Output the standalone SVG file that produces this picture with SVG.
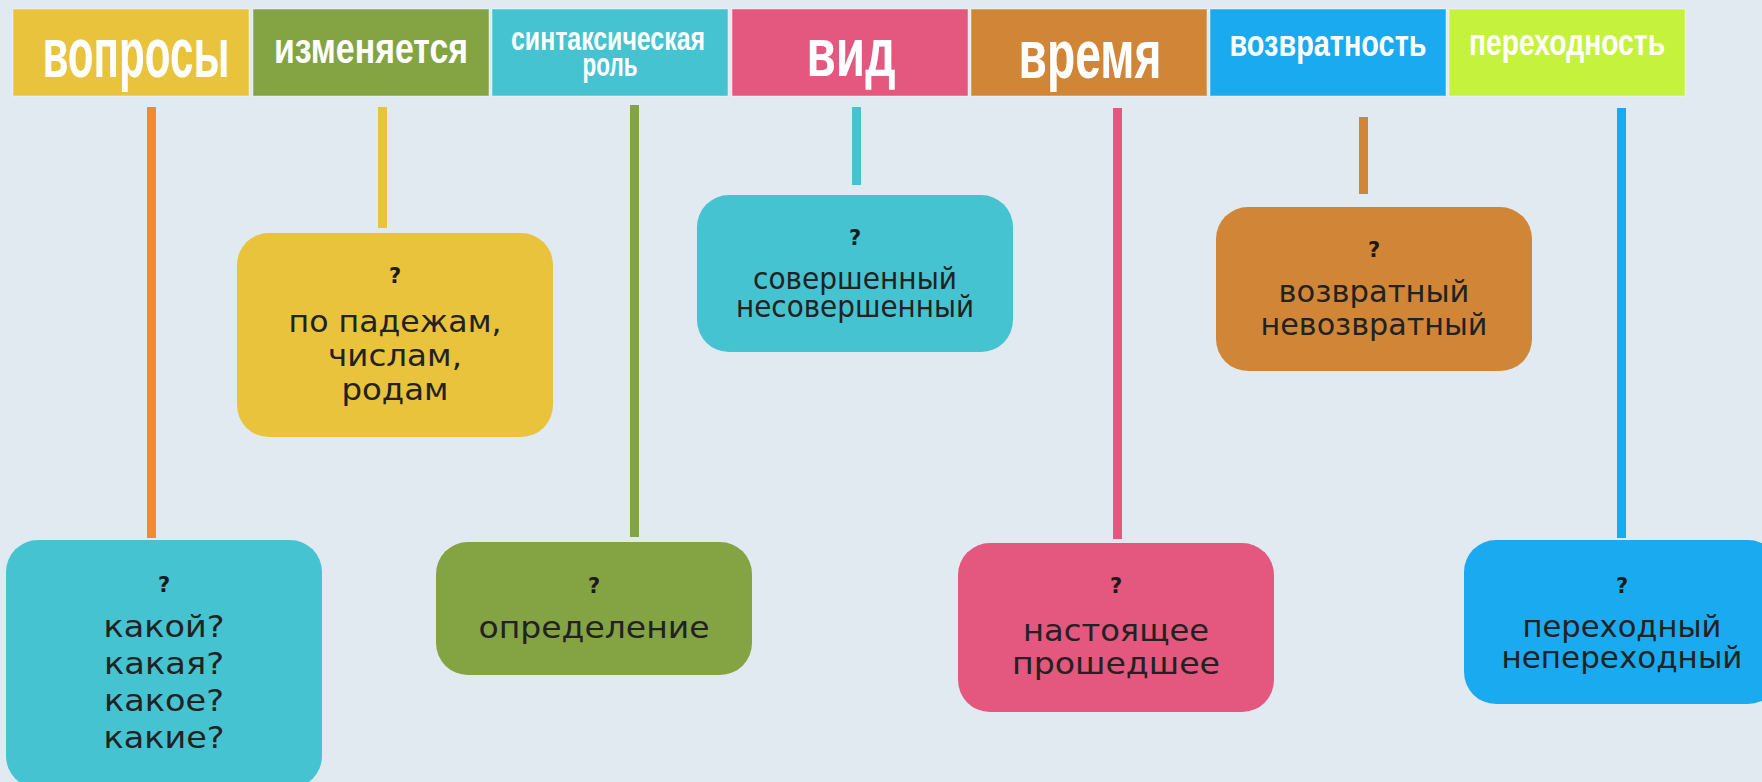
<svg xmlns="http://www.w3.org/2000/svg" width="1762" height="782" viewBox="0 0 1762 782">
<style>
.hd{stroke:#ffffff;stroke-opacity:0.45;stroke-width:1}
.ht{font-family:"Liberation Sans",Arial,sans-serif;font-weight:bold;fill:#ffffff;text-anchor:middle}
.q{font-family:"DejaVu Sans","Noto Sans",sans-serif;font-weight:bold;font-size:21px;fill:#1a1a1a;text-anchor:middle}
.bt{font-family:"DejaVu Sans","Noto Sans",sans-serif;font-size:30px;fill:#222222;text-anchor:middle}
.ln{stroke-width:9;fill:none}
</style>
<rect x="0" y="0" width="1762" height="782" fill="#E1E9F1"/>

<g id="h-voprosy">
<rect class="hd" x="13" y="9" width="236" height="87" fill="#E8C33B"/>
<text class="ht" x="136" y="77" font-size="70" textLength="187" lengthAdjust="spacingAndGlyphs">вопросы</text>
</g>
<g id="h-izmenyaetsya">
<rect class="hd" x="253" y="9" width="236" height="87" fill="#84A444"/>
<text class="ht" x="371" y="63" font-size="43" textLength="194" lengthAdjust="spacingAndGlyphs">изменяется</text>
</g>
<g id="h-sintaks">
<rect class="hd" x="492" y="9" width="236" height="87" fill="#45C3D1"/>
<text class="ht" x="608" y="50" font-size="33" textLength="194" lengthAdjust="spacingAndGlyphs">синтаксическая</text>
<text class="ht" x="610" y="76" font-size="33" textLength="55" lengthAdjust="spacingAndGlyphs">роль</text>
</g>
<g id="h-vid">
<rect class="hd" x="732" y="9" width="236" height="87" fill="#E4577E"/>
<text class="ht" x="851" y="76" font-size="68" textLength="89" lengthAdjust="spacingAndGlyphs">вид</text>
</g>
<g id="h-vremya">
<rect class="hd" x="971" y="9" width="236" height="87" fill="#D08636"/>
<text class="ht" x="1090" y="78" font-size="68" textLength="143" lengthAdjust="spacingAndGlyphs">время</text>
</g>
<g id="h-vozvratnost">
<rect class="hd" x="1210" y="9" width="236" height="87" fill="#1AAAEF"/>
<text class="ht" x="1328" y="56" font-size="37" textLength="197" lengthAdjust="spacingAndGlyphs">возвратность</text>
</g>
<g id="h-perehodnost">
<rect class="hd" x="1449" y="9" width="236" height="87" fill="#C5F23C"/>
<text class="ht" x="1567" y="55" font-size="36" textLength="196" lengthAdjust="spacingAndGlyphs">переходность</text>
</g>

<g id="connectors">
<line class="ln" x1="151.5" y1="107" x2="151.5" y2="538" stroke="#F5892F"/>
<line class="ln" x1="382.5" y1="107" x2="382.5" y2="228" stroke="#E8C33B"/>
<line class="ln" x1="634.5" y1="105" x2="634.5" y2="537" stroke="#84A444"/>
<line class="ln" x1="856.5" y1="107" x2="856.5" y2="185" stroke="#45C3D1"/>
<line class="ln" x1="1117.5" y1="108" x2="1117.5" y2="539" stroke="#E4577E"/>
<line class="ln" x1="1363.5" y1="117" x2="1363.5" y2="194" stroke="#D08636"/>
<line class="ln" x1="1621.5" y1="108" x2="1621.5" y2="538" stroke="#1AAAEF"/>
</g>

<g id="n-kakoy">
<rect x="6" y="540" width="316" height="248" rx="32" fill="#45C3D1"/>
<text class="q" x="164" y="592">?</text>
<text class="bt" x="164" y="637" font-size="31" textLength="121" lengthAdjust="spacingAndGlyphs">какой?</text>
<text class="bt" x="164" y="674" font-size="31" textLength="120" lengthAdjust="spacingAndGlyphs">какая?</text>
<text class="bt" x="164" y="711" font-size="31" textLength="120" lengthAdjust="spacingAndGlyphs">какое?</text>
<text class="bt" x="164" y="748" font-size="31" textLength="121" lengthAdjust="spacingAndGlyphs">какие?</text>
</g>
<g id="n-padezham">
<rect x="237" y="233" width="316" height="204" rx="32" fill="#E8C33B"/>
<text class="q" x="395" y="283">?</text>
<text class="bt" x="395" y="332" textLength="213" lengthAdjust="spacingAndGlyphs">по падежам,</text>
<text class="bt" x="395" y="366" textLength="134" lengthAdjust="spacingAndGlyphs">числам,</text>
<text class="bt" x="395" y="400" textLength="107" lengthAdjust="spacingAndGlyphs">родам</text>
</g>
<g id="n-opredelenie">
<rect x="436" y="542" width="316" height="133" rx="32" fill="#84A444"/>
<text class="q" x="594" y="593">?</text>
<text class="bt" x="594" y="638" font-size="31" textLength="231" lengthAdjust="spacingAndGlyphs">определение</text>
</g>
<g id="n-sovershenny">
<rect x="697" y="195" width="316" height="157" rx="32" fill="#45C3D1"/>
<text class="q" x="855" y="245">?</text>
<text class="bt" x="855" y="289" font-size="28" textLength="204" lengthAdjust="spacingAndGlyphs">совершенный</text>
<text class="bt" x="855" y="317" font-size="28" textLength="238" lengthAdjust="spacingAndGlyphs">несовершенный</text>
</g>
<g id="n-nastoyashchee">
<rect x="958" y="543" width="316" height="169" rx="32" fill="#E4577E"/>
<text class="q" x="1116" y="593">?</text>
<text class="bt" x="1116" y="641" textLength="186" lengthAdjust="spacingAndGlyphs">настоящее</text>
<text class="bt" x="1116" y="674" textLength="208" lengthAdjust="spacingAndGlyphs">прошедшее</text>
</g>
<g id="n-vozvratny">
<rect x="1216" y="207" width="316" height="164" rx="32" fill="#D08636"/>
<text class="q" x="1374" y="257">?</text>
<text class="bt" x="1374" y="302" textLength="191" lengthAdjust="spacingAndGlyphs">возвратный</text>
<text class="bt" x="1374" y="335" textLength="227" lengthAdjust="spacingAndGlyphs">невозвратный</text>
</g>
<g id="n-perehodny">
<rect x="1464" y="540" width="316" height="164" rx="32" fill="#1AAAEF"/>
<text class="q" x="1622" y="593">?</text>
<text class="bt" x="1622" y="637" textLength="199" lengthAdjust="spacingAndGlyphs">переходный</text>
<text class="bt" x="1622" y="668" textLength="241" lengthAdjust="spacingAndGlyphs">непереходный</text>
</g>
</svg>
